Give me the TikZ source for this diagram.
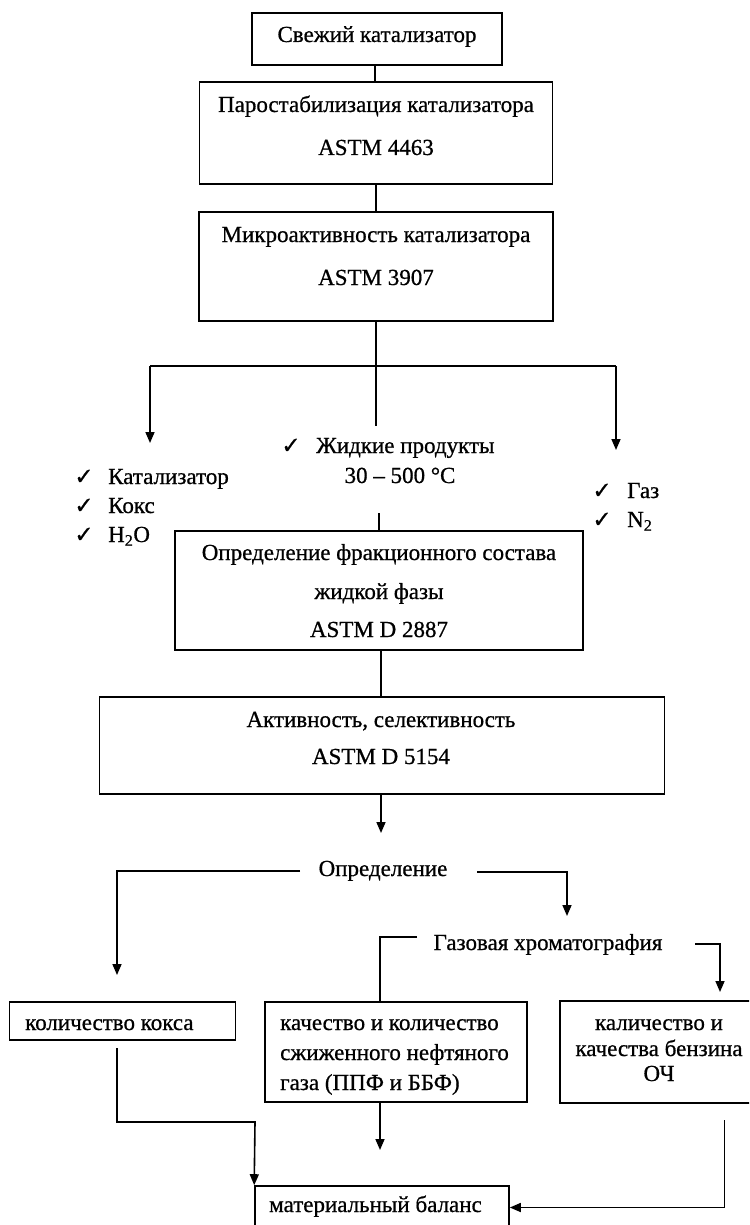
\documentclass[tikz,border=0pt]{standalone}
\usepackage{fontspec}
\setmainfont[FakeBold=0.7]{Liberation Serif}
\newfontfamily\heavyf[FakeBold=0.7]{Liberation Serif}
\newfontfamily\symf[FakeBold=0.6]{DejaVu Sans}
\usetikzlibrary{arrows.meta}
\tikzset{
  box/.style={draw, line width=1.6pt, inner sep=0pt},
  txt/.style={inner sep=0pt, text height=15pt, text depth=5pt, font=\heavyf\fontsize{23}{27}\selectfont},
  ln/.style={line width=1.6pt},
  arr/.style={line width=1.6pt, -{Triangle[length=11pt,width=9pt]}},
  chk/.style={inner sep=0pt, font=\symf\fontsize{23}{26}\selectfont}
}
\begin{document}
\begin{tikzpicture}[x=1pt,y=-1pt]
\clip (0,0) rectangle (749,1225);
\fill[white] (0,0) rectangle (749,1225);
% boxes
\node[box, minimum width=250pt, minimum height=52pt] (b1) at (377,39) {};
\node[box, minimum width=353pt, minimum height=102pt] (b2) at (376,133) {};
\node[box, minimum width=354pt, minimum height=109pt] (b3) at (376,266.5) {};
\node[box, minimum width=408pt, minimum height=119pt] (b4) at (379,590.5) {};
\node[box, minimum width=565pt, minimum height=97pt] (b5) at (382,745.5) {};
\node[box, minimum width=226pt, minimum height=38pt] (b6) at (122.6,1021) {};
\node[box, minimum width=262pt, minimum height=100pt] (b7) at (396,1052) {};
\node[box, minimum width=192pt, minimum height=102pt] (b8) at (656,1052) {};
\node[box, minimum width=254pt, minimum height=43pt] (b9) at (382,1207.5) {};
% box texts
\node[txt] (t1) at (377,37) {Свежий катализатор};
\node[txt] (t2a) at (376,107) {Паростабилизация катализатора};
\node[txt] (t2b) at (376,150) {ASTM 4463};
\node[txt] (t3a) at (376,237) {Микроактивность катализатора};
\node[txt] (t3b) at (376,280) {ASTM 3907};
\node[txt] (t4a) at (379,555) {Определение фракционного состава};
\node[txt] (t4b) at (379,594) {жидкой фазы};
\node[txt] (t4c) at (379,632) {ASTM D 2887};
\node[txt] (t5a) at (381,722) {Активность, селективность};
\node[txt] (t5b) at (381,759) {ASTM D 5154};
\node[txt, anchor=west] (t6) at (25,1025) {количество кокса};
\node[txt, anchor=west] (t7a) at (280,1025) {качество и количество};
\node[txt, anchor=west] (t7b) at (280,1055) {сжиженного нефтяного};
\node[txt, anchor=west] (t7c) at (280,1085) {газа (ППФ и ББФ)};
\node[txt] (t8a) at (659,1025) {каличество и};
\node[txt] (t8b) at (659,1051) {качества бензина};
\node[txt] (t8c) at (659,1076) {ОЧ};
\node[txt, anchor=west] (t9) at (269,1207) {материальный баланс};
% product lists
\node[chk] (c1) at (291,446) {✓};
\node[txt, anchor=west] (l1) at (316,448) {Жидкие продукты};
\node[txt] (l1b) at (400,478) {30 – 500 °C};
\node[chk] (c2) at (84,477) {✓};
\node[txt, anchor=west] (l2) at (108,479) {Катализатор};
\node[chk] (c3) at (84,506) {✓};
\node[txt, anchor=west] (l3) at (108,508) {Кокс};
\node[chk] (c4) at (84,535) {✓};
\node[txt, anchor=west] (l4) at (108,537) {H\textsubscript{2}O};
\node[chk] (c5) at (602,491) {✓};
\node[txt, anchor=west] (l5) at (627,493) {Газ};
\node[chk] (c6) at (602,520) {✓};
\node[txt, anchor=west] (l6) at (627,522) {N\textsubscript{2}};
% free texts
\node[txt] (opr) at (383,871) {Определение};
\node[txt] (gc) at (548,945) {Газовая хроматография};
% coordinates
\coordinate (split) at (376,366);
\coordinate (midend) at (376,426);
\coordinate (lefttip) at (150,443);
\coordinate (righttip) at (616,450);
\coordinate (liqstart) at (379,513);
\coordinate (b5tip) at (381,833);
\coordinate (oprL) at (300,871);
\coordinate (oprR) at (477,872);
\coordinate (coketip) at (117,975);
\coordinate (gctip) at (567,916);
\coordinate (gcL) at (417,937);
\coordinate (gcR) at (695,944);
\coordinate (benztip) at (720,992);
\coordinate (b6out) at (117,1048);
\coordinate (b7tip) at (380,1150);
\coordinate (b8out) at (724.5,1120);
% connectors
\draw[ln] (b1.south -| 375,0) -- (b2.north -| 375,0);
\draw[ln] (b2.south) -- (b3.north);
\draw[ln] (b3.south) -- (midend);
\draw[ln] (split -| lefttip) -- (split -| righttip);
\draw[arr] (split -| lefttip) -- (lefttip);
\draw[arr] (split -| righttip) -- (righttip);
\draw[ln] (liqstart) -- (liqstart |- b4.north);
\draw[ln] (b4.south -| 381,0) -- (b5.north -| 381,0);
\draw[arr] (b5.south -| b5tip) -- (b5tip);
\draw[arr] (oprL) -| (coketip);
\draw[arr] (oprR) -| (gctip);
\draw[ln] (gcL) -| (b7.north -| 380,0);
\draw[arr] (gcR) -| (benztip);
\draw[arr] (b6out) |- (255,1122) -- (b9.north west);
\draw[arr] (b7.south -| b7tip) -- (b7tip);
\draw[arr] (b8out) |- (b9.east);
\end{tikzpicture}
\end{document}
